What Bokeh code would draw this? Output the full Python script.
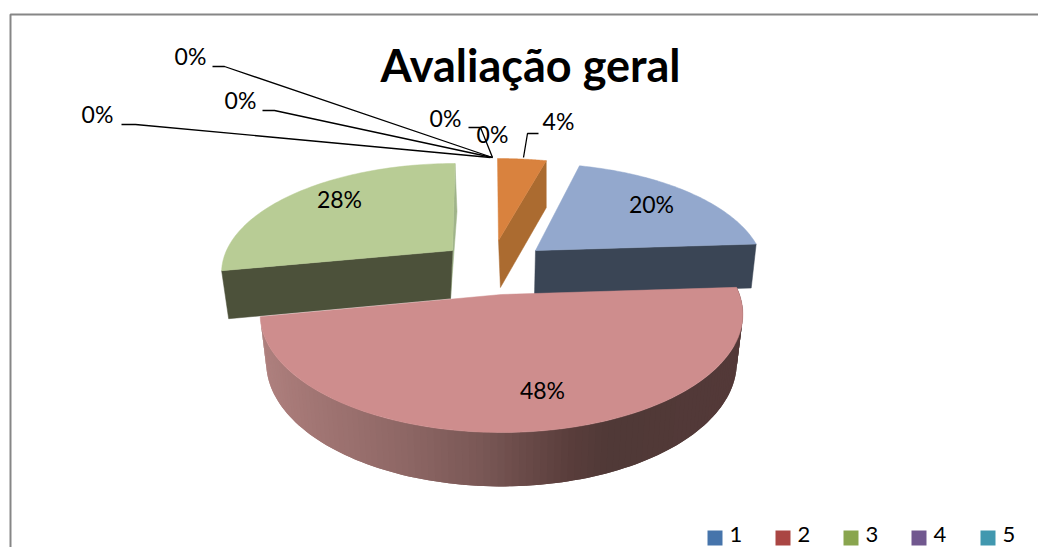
import numpy as np
from bokeh.plotting import figure
from bokeh.models import Range1d
from bokeh.core.properties import value
from bokeh.embed import file_html
from bokeh.resources import INLINE

title = "Avaliação geral"
categories = ["1", "2", "3", "4", "5", "6", "7", "8", "9"]
values = [20, 48, 28, 0, 0, 0, 0, 0, 4]
legend_colors = ["#4674AB", "#AA4643", "#89A54E", "#71588F", "#4198AF"]

FONT = value("Lato")
p = figure(width=1038, height=547, x_range=Range1d(0, 1038), y_range=Range1d(547, 0),
           output_backend="svg", toolbar_location=None, min_border=0,
           outline_line_color=None, background_fill_color="white", border_fill_color="white")
p.axis.visible = False
p.grid.visible = False

# chart frame
p.line([10, 10, 1038], [547, 14, 14], line_color="#868686", line_width=2)

START = 360 * values[8] / sum(values)
fracs = np.array(values[:3]) * 3.6
edges = START + np.concatenate([[0], np.cumsum(fracs)])
ORANGE = (0.0, START)


def rim(th, g):
    t = np.radians(np.asarray(th, dtype=float))
    u, v = np.cos(t), np.sin(t)
    k = (g["rf"] - g["rb"]) / (g["rf"] + g["rb"])
    R = g["rb"] * (1 + k)
    s = 1 / (1 + k * u)
    return g["ax"] + g["rx"] * v * s + g["sh"] * u, g["ay"] - R * u * s


def drop(x, y, g):
    x, y = np.asarray(x, dtype=float), np.asarray(y, dtype=float)
    return x + g["kx"] * (g["vx"] - x), y + g["d"] + g["ey"] * (y - g["ay"])


def face(g, a, b, color):
    x, y = rim(np.linspace(a, b, 80), g)
    p.patch([g["ax"], *x], [g["ay"], *y], fill_color=color, line_color=color, line_width=0.5)


def radial_wall(g, th, color):
    rx, ry = rim(th, g)
    bx, by = drop(rx, ry, g)
    ax0, ay0 = drop(g["ax"], g["ay"], g)
    p.patch([g["ax"], float(rx), float(bx), float(ax0)], [g["ay"], float(ry), float(by), float(ay0)],
            fill_color=color, line_color=color, line_width=0.5)


BLUE = dict(ax=535, ay=250, rx=224, rb=87, rf=129, sh=-3, kx=0.018, vx=480, d=44, ey=0)
RED = dict(ax=501, ay=294, rx=238, rb=98.6, rf=138, sh=0, kx=0.025, vx=501, d=47, ey=0.05)
GREEN = dict(ax=452, ay=250, rx=226, rb=87, rf=129, sh=2.5, kx=0.039, vx=401, d=48, ey=0)
ORG = dict(ax=498, ay=240, rx=233, rb=82, rf=122, sh=-1, kx=0.04, vx=546, d=47, ey=0)

# green slice
tx, ty = rim(edges[3], GREEN)
ax0, ay0 = drop(GREEN["ax"], GREEN["ay"], GREEN)
p.patch([float(tx), float(tx) + 2, float(ax0), GREEN["ax"]], [float(ty), float(ty) + 48, float(ay0), GREEN["ay"]],
        fill_color="#A0B48A", line_color="#A0B48A", line_width=0.5)
radial_wall(GREEN, edges[2], "#4C513A")
face(GREEN, edges[2], edges[3], "#B8CC95")

# orange slice
radial_wall(ORG, ORANGE[1], "#AB6B30")
face(ORG, ORANGE[0], ORANGE[1], "#D9823E")

# blue slice
radial_wall(BLUE, edges[1], "#3A4555")
face(BLUE, edges[0], edges[1], "#93A8CD")

# red slice: shaded outer wall, each strip painted over the previous one
wall_x = [255, 300, 400, 480, 570, 610, 745]
wall_r = [176, 165, 143, 122, 90, 80, 84]
wall_g = [130, 120, 104, 88, 62, 57, 58]
wall_b = [128, 118, 102, 86, 60, 55, 57]
ths = np.linspace(edges[2], edges[1], 120)
xs, ys = rim(ths, RED)
bxs, bys = drop(xs, ys, RED)
for i in range(len(ths) - 1):
    mid = (xs[i] + xs[i + 1]) / 2
    c = "#%02x%02x%02x" % tuple(int(np.interp(mid, wall_x, ch)) for ch in (wall_r, wall_g, wall_b))
    j = min(i + 3, len(ths))
    p.patch([*xs[i:j], *bxs[i:j][::-1]], [*ys[i:j], *bys[i:j][::-1]], fill_color=c, line_color=None)
face(RED, edges[1], edges[2], "#CE8D8D")

# leader lines
for lx, ly in [
    ([212, 224, 492], [66, 66, 157]),
    ([262, 274, 492], [110, 110, 157]),
    ([121, 135, 490], [124, 124, 157]),
    ([468, 480, 492], [127, 127, 157]),
    ([523, 527, 538], [157, 133, 133]),
]:
    p.line(lx, ly, line_color="black", line_width=1.3)

# labels
label_x = [651, 542, 339, 190, 240, 97, 445, 492, 558]
label_y = [203.5, 389.5, 198.5, 55.5, 99.5, 113.5, 117.5, 133.5, 120.5]
p.text(label_x, label_y, text=[f"{v}%" for v in values], text_font=FONT, text_font_size=value("23px"),
       text_color="black", text_align="center", text_baseline="middle")

p.text([530], [64], text=[title], text_font=FONT, text_font_size=value("45px"), text_font_style="bold",
       text_color="black", text_align="center", text_baseline="middle")

# legend
leg_x = [707, 775, 843, 911, 980]
for i, c in enumerate(legend_colors):
    p.quad(left=leg_x[i], right=leg_x[i] + 15, top=530, bottom=545, fill_color=c, line_color=None)
p.text([x + 22 for x in leg_x], [533.5] * 5, text=categories[:5], text_font=FONT, text_font_size=value("22px"),
       text_color="black", text_align="left", text_baseline="middle")

open("out.html", "w").write(file_html(p, INLINE))
